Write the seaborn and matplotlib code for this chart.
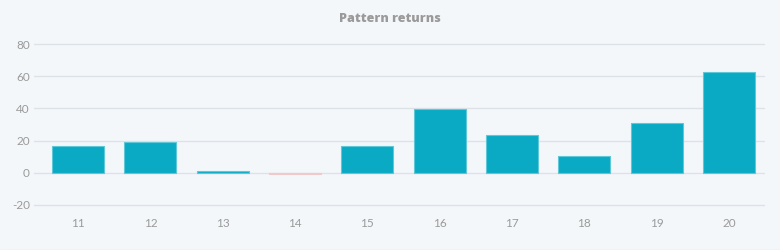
import matplotlib
matplotlib.use("Agg")
import matplotlib.pyplot as plt
import seaborn as sns
import pandas as pd

categories = ["11", "12", "13", "14", "15", "16", "17", "18", "19", "20"]
returns = [16.7, 19.4, 1.2, -0.6, 16.9, 39.8, 23.3, 10.3, 30.8, 62.5]
y_ticks = [-20, 0, 20, 40, 60, 80]

sns.set_theme(style="white")
plt.rcParams['font.family'] = ['Lato', 'DejaVu Sans']

BG = "#f4f7fa"
POS = "#0aaac4"
NEG = "#e9b9b9"
GRID = "#dde2e7"
TXT = "#9a9a9a"

df = pd.DataFrame({"cat": categories, "ret": returns})
colors = [POS if v >= 0 else NEG for v in returns]
edges = ["#5ec7d8" if v >= 0 else "#efcaca" for v in returns]

fig = plt.figure(figsize=(7.8, 2.5), dpi=100, facecolor=BG)
ax = fig.add_axes([34/780, 1-206.6/250, (765-34)/780, (206.6-42.4)/250])
ax.set_facecolor(BG)

sns.barplot(data=df, x="cat", y="ret", hue="cat", palette=colors, legend=False,
            width=0.72, saturation=1, ax=ax, zorder=3)
for patch, ec in zip(ax.patches, edges):
    patch.set_edgecolor(ec)
    patch.set_linewidth(0.8)

ax.set_xlim(-0.61, 9.5)
ax.set_ylim(-21, 81)
ax.set_yticks(y_ticks)
ax.set_yticklabels([str(t) for t in y_ticks])
for t in y_ticks:
    ax.axhline(t, color=GRID, lw=1, zorder=1)
for s in ax.spines.values():
    s.set_visible(False)
ax.tick_params(axis='both', length=0, colors=TXT, labelsize=8.5)
ax.tick_params(axis='x', pad=8)
ax.tick_params(axis='y', pad=3)
ax.set_xlabel("")
ax.set_ylabel("")

fig.text(0.5, 1-19/250, "Pattern returns", ha="center", va="center",
         fontsize=9, fontweight="heavy", color=TXT,
         family=['Open Sans', 'DejaVu Sans'])
fig.add_artist(plt.Line2D([0, 1], [0.5/250, 0.5/250], color=GRID, lw=1))

fig.savefig("out.png", dpi=100, facecolor=BG)
